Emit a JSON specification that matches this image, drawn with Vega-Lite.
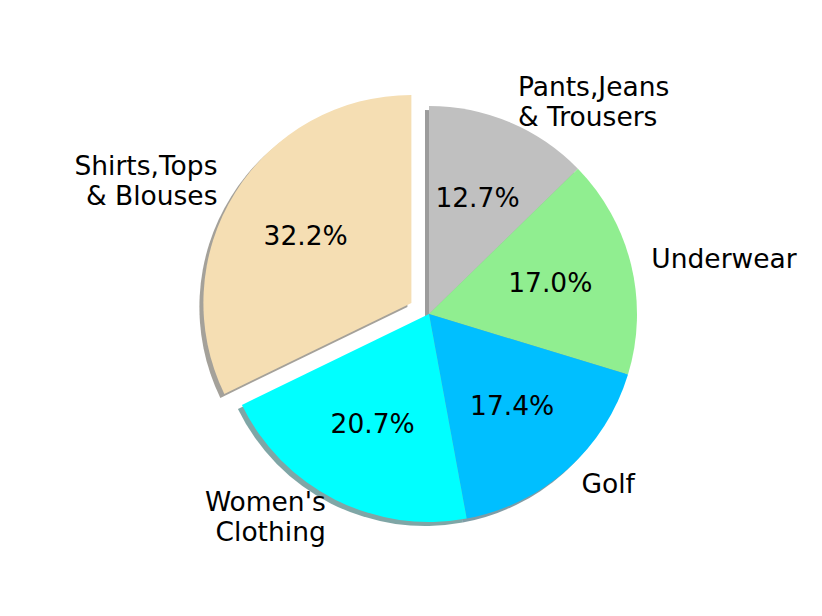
{
  "$schema": "https://vega.github.io/schema/vega-lite/v6.json",
  "width": 780,
  "height": 600,
  "autosize": {"type": "none"},
  "padding": {"left": 39, "top": 14, "right": 3, "bottom": 2},
  "background": "white",
  "config": {"view": {"stroke": null}, "text": {"font": "DejaVu Sans"}},
  "data": {
    "values": [
      {"cat": "Pants,Jeans\n& Trousers", "key": "Pants", "share": 0.127, "order": 1, "side": "right"},
      {"cat": "Underwear", "key": "Underwear", "share": 0.170, "order": 2, "side": "right"},
      {"cat": "Golf", "key": "Golf", "share": 0.174, "order": 3, "side": "right"},
      {"cat": "Women's\nClothing", "key": "Women", "share": 0.207, "order": 4, "side": "left"},
      {"cat": "Shirts,Tops\n& Blouses", "key": "Shirts", "share": 0.322, "order": 5, "side": "left"}
    ]
  },
  "transform": [
    {"stack": "share", "groupby": [], "sort": [{"field": "order", "order": "ascending"}], "as": ["v0", "v1"]},
    {"calculate": "(datum.v0 + datum.v1) / 2", "as": "mid"}
  ],
  "layer": [
    {
      "transform": [{"filter": "datum.key !== 'Shirts'"}],
      "mark": {"type": "arc", "xOffset": -4, "yOffset": 4, "opacity": 0.5, "outerRadius": 208},
      "encoding": {
        "theta": {"field": "v0", "type": "quantitative", "scale": {"domain": [0, 1]}},
        "theta2": {"field": "v1"},
        "fill": {"field": "key", "type": "nominal", "legend": null,
          "scale": {"domain": ["Pants", "Underwear", "Golf", "Women", "Shirts"], "range": ["#3a3a3a", "#2b472b", "#00394d", "#004d4d", "#4a4336"]}}
      }
    },
    {
      "transform": [{"filter": "datum.key === 'Shirts'"}],
      "mark": {"type": "arc", "xOffset": -21.6, "yOffset": -7, "opacity": 0.5, "outerRadius": 208},
      "encoding": {
        "theta": {"field": "v0", "type": "quantitative", "scale": {"domain": [0, 1]}},
        "theta2": {"field": "v1"},
        "fill": {"field": "key", "type": "nominal", "legend": null,
          "scale": {"domain": ["Pants", "Underwear", "Golf", "Women", "Shirts"], "range": ["#3a3a3a", "#2b472b", "#00394d", "#004d4d", "#4a4336"]}}
      }
    },
    {
      "transform": [{"filter": "datum.key !== 'Shirts'"}],
      "mark": {"type": "arc", "outerRadius": 208},
      "encoding": {
        "theta": {"field": "v0", "type": "quantitative", "scale": {"domain": [0, 1]}},
        "theta2": {"field": "v1"},
        "color": {"field": "key", "type": "nominal", "legend": null,
          "scale": {"domain": ["Pants", "Underwear", "Golf", "Women", "Shirts"], "range": ["#c0c0c0", "#90ee90", "#00bfff", "#00ffff", "#f5deb3"]}}
      }
    },
    {
      "transform": [{"filter": "datum.key === 'Shirts'"}],
      "mark": {"type": "arc", "xOffset": -17.6, "yOffset": -11, "outerRadius": 208},
      "encoding": {
        "theta": {"field": "v0", "type": "quantitative", "scale": {"domain": [0, 1]}},
        "theta2": {"field": "v1"},
        "color": {"field": "key", "type": "nominal", "legend": null,
          "scale": {"domain": ["Pants", "Underwear", "Golf", "Women", "Shirts"], "range": ["#c0c0c0", "#90ee90", "#00bfff", "#00ffff", "#f5deb3"]}}
      }
    },
    {
      "transform": [{"filter": "datum.key !== 'Shirts'"}],
      "mark": {"type": "text", "radius": 124.8, "fontSize": 26.5, "align": "center", "baseline": "middle", "color": "black"},
      "encoding": {
        "theta": {"field": "mid", "type": "quantitative", "scale": {"domain": [0, 1]}},
        "text": {"field": "share", "type": "quantitative", "format": ".1%"}
      }
    },
    {
      "transform": [{"filter": "datum.key === 'Shirts'"}],
      "mark": {"type": "text", "radius": 124.8, "fontSize": 26.5, "align": "center", "baseline": "middle", "color": "black", "xOffset": -17.6, "yOffset": -11},
      "encoding": {
        "theta": {"field": "mid", "type": "quantitative", "scale": {"domain": [0, 1]}},
        "text": {"field": "share", "type": "quantitative", "format": ".1%"}
      }
    },
    {
      "transform": [{"filter": "datum.key === 'Underwear' || datum.key === 'Golf'"}],
      "mark": {"type": "text", "radius": 228.8, "fontSize": 26.5, "align": "left", "baseline": "middle", "color": "black"},
      "encoding": {
        "theta": {"field": "mid", "type": "quantitative", "scale": {"domain": [0, 1]}},
        "text": {"field": "cat"}
      }
    },
    {
      "transform": [{"filter": "datum.key === 'Pants'"}],
      "mark": {"type": "text", "radius": 228.8, "fontSize": 26.5, "align": "left", "baseline": "middle", "color": "black", "lineBreak": "\n", "lineHeight": 30, "yOffset": -15},
      "encoding": {
        "theta": {"field": "mid", "type": "quantitative", "scale": {"domain": [0, 1]}},
        "text": {"field": "cat"}
      }
    },
    {
      "transform": [{"filter": "datum.key === 'Women'"}],
      "mark": {"type": "text", "radius": 228.8, "fontSize": 26.5, "align": "right", "baseline": "middle", "color": "black", "lineBreak": "\n", "lineHeight": 30, "yOffset": -15},
      "encoding": {
        "theta": {"field": "mid", "type": "quantitative", "scale": {"domain": [0, 1]}},
        "text": {"field": "cat"}
      }
    },
    {
      "transform": [{"filter": "datum.key === 'Shirts'"}],
      "mark": {"type": "text", "radius": 228.8, "fontSize": 26.5, "align": "right", "baseline": "middle", "color": "black", "lineBreak": "\n", "lineHeight": 30, "xOffset": -17.6, "yOffset": -26},
      "encoding": {
        "theta": {"field": "mid", "type": "quantitative", "scale": {"domain": [0, 1]}},
        "text": {"field": "cat"}
      }
    }
  ],
  "resolve": {"scale": {"color": "independent", "fill": "independent"}}
}
